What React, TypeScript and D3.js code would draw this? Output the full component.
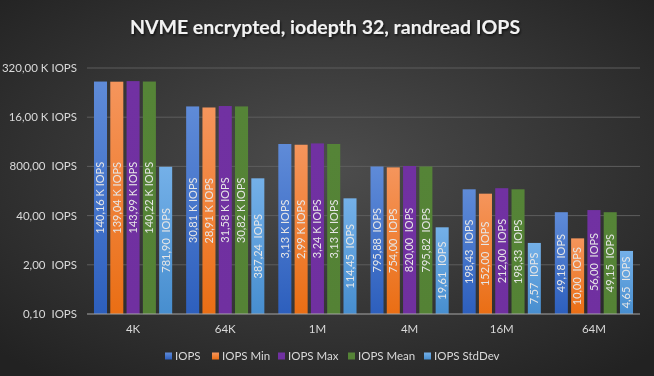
import React from "react";
import * as d3 from "d3";

const categories = ["4K", "64K", "1M", "4M", "16M", "64M"];
const seriesNames = ["IOPS", "IOPS Min", "IOPS Max", "IOPS Mean", "IOPS StdDev"];
const iops = [140160, 30810, 3130, 795.88, 198.43, 49.18];
const iopsMin = [139040, 28910, 2990, 754.0, 152.0, 10.0];
const iopsMax = [143990, 31580, 3240, 820.0, 212.0, 56.0];
const iopsMean = [140220, 30820, 3130, 795.82, 198.33, 49.15];
const iopsStd = [781.9, 387.24, 114.45, 19.61, 7.57, 4.65];
const yTicks = [0.1, 2, 40, 800, 16000, 320000];
const title = "NVME encrypted, iodepth 32, randread IOPS";

const seriesValues = [iops, iopsMin, iopsMax, iopsMean, iopsStd];
const colors = [
  ["#5f8bd8", "#2d5fbd"],
  ["#f5955c", "#ea6e14"],
  ["#7131a2", "#7030a0"],
  ["#558437", "#548235"],
  ["#74b0e8", "#478ecf"],
];

const W = 654, H = 376;
const left = 87, right = 640, top = 68, bottom = 314;
const font = "Lato, 'Open Sans', sans-serif";

function fmt(v: number): string {
  if (v >= 1000) return (v / 1000).toFixed(2).replace(".", ",") + " K IOPS";
  return v.toFixed(2).replace(".", ",") + "  IOPS";
}

export default function App() {
  const y = d3.scaleLog().base(20).domain([0.1, 320000]).range([bottom, top]);
  const x0 = d3.scaleBand<string>().domain(categories).range([left, right]).paddingInner(0.1516).paddingOuter(0.0758);
  const x1 = d3.scaleBand<string>().domain(seriesNames).range([0, x0.bandwidth()]).paddingInner(0.2);

  const legendX = [165, 212, 278, 348, 424];

  return (
    <div style={{ position: "fixed", left: 0, top: 0, width: W, height: H }}>
      <svg width={W} height={H} style={{ display: "block" }}>
        <defs>
          <radialGradient id="bg" cx="50%" cy="45%" r="70%">
            <stop offset="0%" stopColor="#4d4d4d" />
            <stop offset="100%" stopColor="#222222" />
          </radialGradient>
          {colors.map((c, i) => (
            <linearGradient key={i} id={`g${i}`} x1="0" y1="0" x2="0" y2="1">
              <stop offset="0%" stopColor={c[0]} />
              <stop offset="100%" stopColor={c[1]} />
            </linearGradient>
          ))}
          <filter id="tshadow" x="-10%" y="-30%" width="120%" height="160%">
            <feDropShadow dx="1" dy="1.5" stdDeviation="1" floodColor="#000" floodOpacity="0.7" />
          </filter>
        </defs>
        <rect x={0} y={0} width={W} height={H} fill="url(#bg)" />
        <text x={325} y={34} textAnchor="middle" fontFamily={font} fontWeight="bold" fontSize={19.5} fill="#f2f2f2" filter="url(#tshadow)">
          {title}
        </text>
        {yTicks.map((t) => (
          <g key={t}>
            {t !== 0.1 && <line x1={left} x2={right} y1={y(t)} y2={y(t)} stroke="#5d5d5d" strokeWidth={1} />}
            <text x={77} y={y(t)} dy="0.35em" textAnchor="end" fontFamily={font} fontSize={11.5} fill="#d9d9d9" style={{ whiteSpace: "pre" }}>
              {fmt(t)}
            </text>
          </g>
        ))}
        {categories.map((c, ci) => (
          <g key={c} transform={`translate(${x0(c)},0)`}>
            {seriesNames.map((s, si) => {
              const v = seriesValues[si][ci];
              const yy = y(v);
              const bx = x1(s)!;
              const bw = x1.bandwidth();
              const cy = (yy + bottom) / 2;
              return (
                <g key={s}>
                  <rect x={bx} y={yy} width={bw} height={bottom - yy} fill={`url(#g${si})`} />
                  <text
                    transform={`translate(${bx + bw / 2},${cy}) rotate(-90)`}
                    textAnchor="middle"
                    dy="0.35em"
                    fontFamily={font}
                    fontSize={11}
                    fill="#e6e6e6"
                    style={{ whiteSpace: "pre" }}
                  >
                    {fmt(v)}
                  </text>
                </g>
              );
            })}
            <text x={x0.bandwidth() / 2} y={333} textAnchor="middle" fontFamily={font} fontSize={11.5} fill="#d9d9d9">
              {c}
            </text>
          </g>
        ))}
        <line x1={left} x2={right} y1={bottom} y2={bottom} stroke="#a6a6a6" strokeWidth={1} />
        {seriesNames.map((s, i) => (
          <g key={s} transform={`translate(${legendX[i]},356)`}>
            <rect x={0} y={-3.5} width={7} height={7} fill={`url(#g${i})`} />
            <text x={10} y={0} dy="0.35em" fontFamily={font} fontSize={11.5} fill="#d9d9d9">
              {s}
            </text>
          </g>
        ))}
      </svg>
    </div>
  );
}
